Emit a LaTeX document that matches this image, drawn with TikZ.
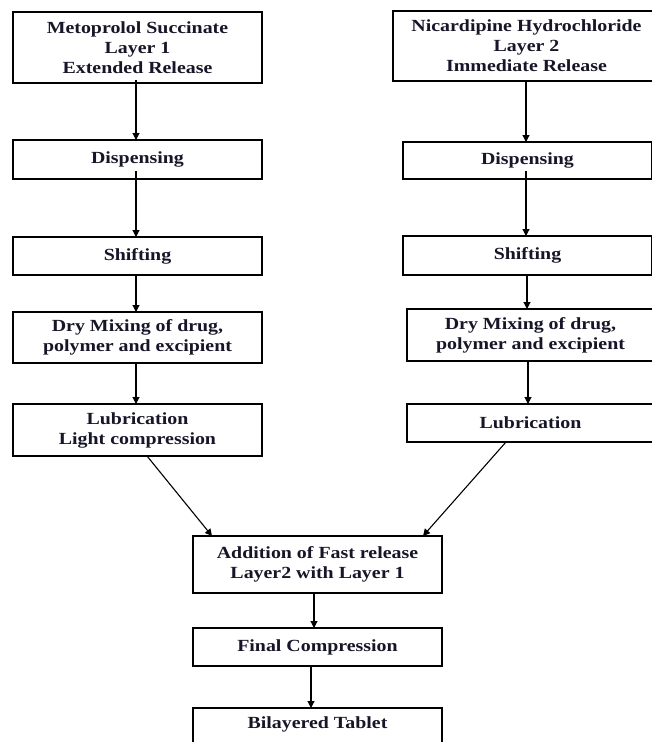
\documentclass[tikz,border=0pt]{standalone}
\usepackage{fontspec}
\setmainfont{Liberation Serif}[FakeStretch=1.17]
\usetikzlibrary{arrows.meta}
\definecolor{txt}{RGB}{22,22,40}
\begin{document}
\begin{tikzpicture}[x=1pt,y=-1pt,
  box/.style={draw=black,line width=1.3pt,inner sep=0pt,outer sep=0pt,
    align=center,text=txt,font=\fontsize{17}{20}\selectfont\bfseries},
  flow/.style={draw=black,line width=1.1pt,-{Triangle[length=7pt,width=7pt]}}]
\useasboundingbox (0,0) rectangle (651,742);
% left column
\node[box,minimum width=249pt,minimum height=71pt] (L1) at (137.5,47.5) {Metoprolol Succinate\\Layer 1\\Extended Release};
\node[box,minimum width=249pt,minimum height=39pt] (L2) at (137.5,159.5) {Dispensing};
\node[box,minimum width=249pt,minimum height=38pt] (L3) at (137.5,256) {Shifting};
\node[box,minimum width=249pt,minimum height=51pt] (L4) at (137.5,337.5) {Dry Mixing of drug,\\polymer and excipient};
\node[box,minimum width=249pt,minimum height=52pt] (L5) at (137.5,430) {Lubrication\\Light compression};
% right column
\node[box,minimum width=267pt,minimum height=70pt] (R1) at (526.5,46) {Nicardipine Hydrochloride\\Layer 2\\Immediate Release};
\node[box,minimum width=249pt,minimum height=37pt] (R2) at (527.5,160.5) {Dispensing};
\node[box,minimum width=249pt,minimum height=39pt] (R3) at (527.5,255.5) {Shifting};
\node[box,minimum width=247pt,minimum height=52pt] (R4) at (530.5,335) {Dry Mixing of drug,\\polymer and excipient};
\node[box,minimum width=247pt,minimum height=38pt] (R5) at (530.5,423) {Lubrication};
% centre
\node[box,minimum width=249pt,minimum height=57pt] (A) at (317.5,564.5) {Addition of Fast release\\Layer2 with Layer 1};
\node[box,minimum width=249pt,minimum height=38pt] (F) at (317.5,647) {Final Compression};
\node[box,minimum width=249pt,minimum height=52pt,text height=12pt] (B) at (317.5,734) {};
\node[text=txt,font=\fontsize{17}{20}\selectfont\bfseries] (Bt) at (317.5,724) {Bilayered Tablet};
% connectors
\coordinate (xl) at (136,0);
\coordinate (xr) at (526,0);
\draw[flow] ([yshift=3pt]L1.south -| xl) -- (L2.north -| xl);
\draw[flow] ([yshift=8pt]L2.south -| xl) -- (L3.north -| xl);
\draw[flow] (L3.south -| xl) -- (L4.north -| xl);
\draw[flow] (L4.south -| xl) -- (L5.north -| xl);
\draw[flow] (R1.south -| xr) -- (R2.north -| xr);
\draw[flow] ([yshift=8pt]R2.south -| xr) -- (R3.north -| xr);
\draw[flow] (R3.south -| 527,0) -- (R4.north -| 527,0);
\draw[flow] (R4.south -| 528,0) -- (R5.north -| 528,0);
\draw[flow] (L5.south -| 147,0) -- (A.north -| 212,0);
\draw[flow] (R5.south -| 506,0) -- (A.north -| 423,0);
\draw[flow] (A.south -| 314,0) -- (F.north -| 314,0);
\draw[flow] (F.south -| 311,0) -- (B.north -| 311,0);
\end{tikzpicture}
\end{document}
